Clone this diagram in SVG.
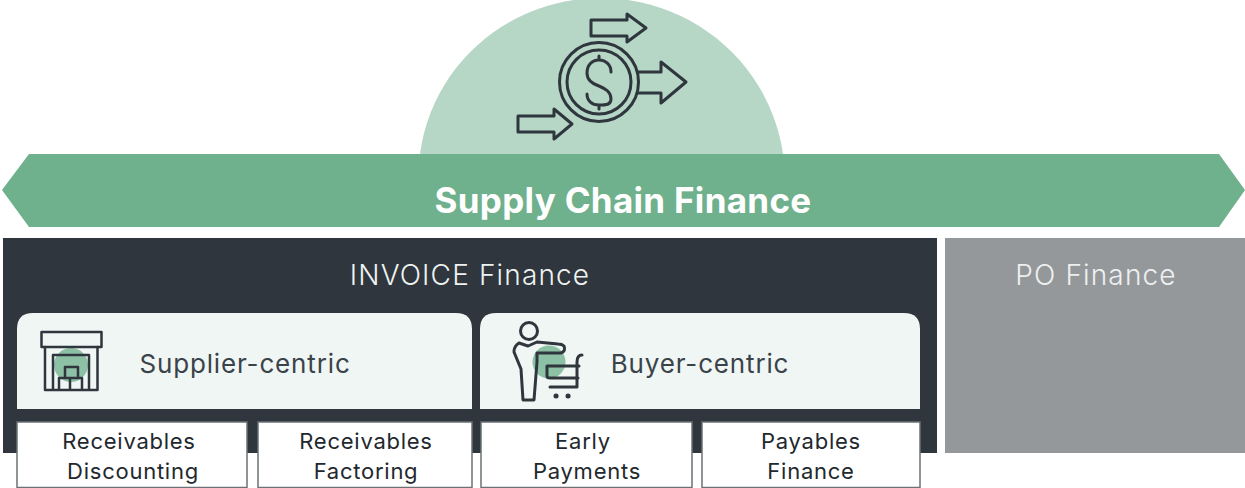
<svg xmlns="http://www.w3.org/2000/svg" width="1245" height="488" viewBox="0 0 1245 488">
<style>
text{font-family:"Inter","Noto Sans","Liberation Sans",sans-serif;text-anchor:middle}
.ic{fill:none;stroke:#2f363d;stroke-linejoin:round;stroke-linecap:round}
.box{fill:#fff;stroke:#6b7175;stroke-width:1.5}
.lbl{font-size:22px;fill:#22282d;letter-spacing:.75px;font-weight:400}
.pan{fill:#eff6f3}
.h{font-size:28px;letter-spacing:1.15px;font-weight:300}
.s{font-size:26px;fill:#3b434a;letter-spacing:.85px;font-weight:400}
</style>
<g id="dome"><path d="M420 154C432 64 510 -2 601 -2C692 -2 770 64 783 154Z" fill="#b6d6c6"/>
<g class="ic" stroke-width="3">
<path d="M518 116H554V109L572 124L554 139V132H518Z"/>
<path d="M591 20H627V14L646 28L627 42V36H591Z"/>
<circle cx="599" cy="82" r="39.500"/><circle cx="599" cy="82" r="32"/>
<path d="M638 72H661V62L686 82L661 103V93H638"/>
<path d="M611 72C611 65 606 60 599 60C592 60 587 65 587 73C587 81 593 84 599 86C606 89 611 92 611 99C611 105 606 105 599 105C592 105 587 101 587 94M599 56V60M599 105V109"/>
</g></g>
<g id="banner"><path d="M29 154H1219L1245 190L1219 227H29L2 190Z" fill="#6fb08d"/>
<text x="623" y="213" font-size="35" font-weight="700" letter-spacing=".3" fill="#fff">Supply Chain Finance</text></g>
<g id="invoice"><rect x="3" y="238" width="934" height="215" fill="#2f363d"/>
<text x="470" y="285" class="h" fill="#eef2f1">INVOICE Finance</text></g>
<g id="po"><rect x="945" y="238" width="300" height="215" fill="#94989a"/>
<text x="1096" y="285" class="h" fill="#eef0f0">PO Finance</text></g>
<g id="supplier"><path d="M17 409V329Q17 313 33 313H456Q472 313 472 329V409Z" class="pan"/>
<circle cx="71" cy="365" r="17" fill="#8cc1a5"/>
<g class="ic" stroke-width="2.500"><rect x="41.500" y="332" width="60" height="15"/>
<path d="M45 347V390H97.500V347M53 390V355H89V390M65 378V367H78V378M59 378H82V390M59 378V390M70 378V390"/></g>
<text x="245" y="373" class="s">Supplier-centric</text></g>
<g id="buyer"><path d="M480 409V329Q480 313 496 313H904Q920 313 920 329V409Z" class="pan"/>
<circle cx="549" cy="362" r="16.500" fill="#8cc1a5"/>
<g class="ic" stroke-width="3"><circle cx="529" cy="331" r="8.500"/>
<path d="M528 346L519 343Q514 346 514 352L521 369L523 400H534L537 362V353H561Q566 351 564 346Q562 344 558 344L537 342L528 346"/>
<path d="M547 366H579M547 366V376Q547 378 550 378H578M582 355Q577 355 577 362V387H550"/>
<path d="M556 396h.1M568 396h.1" stroke-width="5"/></g>
<text x="700" y="373" class="s">Buyer-centric</text></g>
<g id="d1"><rect x="17" y="422" width="230" height="65.500" class="box"/><text x="129" y="449" class="lbl">Receivables</text><text x="133" y="479" class="lbl">Discounting</text></g>
<g id="d2"><rect x="258" y="422" width="214" height="65.500" class="box"/><text x="366" y="449" class="lbl">Receivables</text><text x="366" y="479" class="lbl">Factoring</text></g>
<g id="d3"><rect x="481" y="422" width="211" height="65.500" class="box"/><text x="583" y="449" class="lbl">Early</text><text x="587" y="479" class="lbl">Payments</text></g>
<g id="d4"><rect x="702" y="422" width="218" height="65.500" class="box"/><text x="811" y="449" class="lbl">Payables</text><text x="811" y="479" class="lbl">Finance</text></g>
<g id="connectors"></g>
</svg>
